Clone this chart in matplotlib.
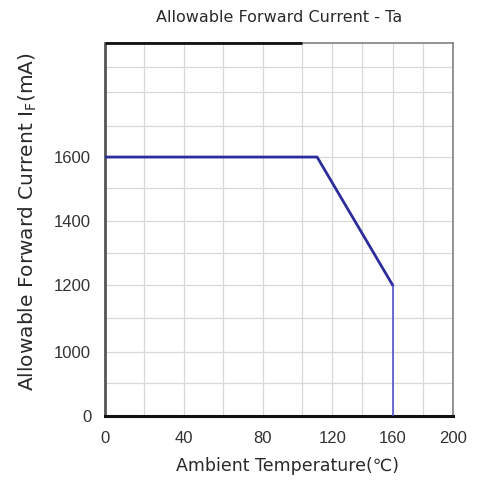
import numpy as np
from matplotlib import pyplot as plt

# Derating curve: forward current vs ambient temperature
temp_curve = [0, 110, 160]
current_curve = [1600, 1600, 1200]
temp_drop = [160, 160]
current_drop = [1200, 0]

x_ticks = [0, 40, 80, 120, 160, 200]
y_ticks = [0, 1000, 1200, 1400, 1600]
x_grid = [20, 60, 100, 140, 180]
y_grid = [500, 1100, 1300, 1500, 1700, 1800, 1900]

# The original chart axes are not linear; piecewise maps (data -> screen units)
X_DATA = [0, 100, 200]
X_SCREEN = [0, 197, 348]
Y_DATA = [0, 500, 1000, 1100, 1200, 1300, 1400, 1500, 1600, 1700, 1800, 1900, 2000]
Y_SCREEN = [0, 33, 64, 98, 131, 163, 195, 228, 259, 290, 324, 349, 373]


def fwd_x(v):
    return np.interp(v, X_DATA, X_SCREEN)


def inv_x(v):
    return np.interp(v, X_SCREEN, X_DATA)


def fwd_y(v):
    return np.interp(v, Y_DATA, Y_SCREEN)


def inv_y(v):
    return np.interp(v, Y_SCREEN, Y_DATA)


plt.rcParams['font.family'] = ['Liberation Sans', 'DejaVu Sans']
plt.rcParams['mathtext.default'] = 'regular'
wide = ['DejaVu Sans']

fig = plt.figure(figsize=(4.78, 4.80), dpi=100)
ax = fig.add_axes([0.2197, 0.1333, 0.728, 0.777])

ax.set_xscale('function', functions=(fwd_x, inv_x))
ax.set_yscale('function', functions=(fwd_y, inv_y))
ax.set_xlim(0, 200)
ax.set_ylim(0, 2000)

ax.set_xticks(x_ticks)
ax.set_xticks(x_grid, minor=True)
ax.set_yticks(y_ticks)
ax.set_yticks(y_grid, minor=True)
ax.set_xticklabels([str(t) for t in x_ticks])
ax.set_yticklabels([str(t) for t in y_ticks])
ax.grid(True, which='both', color='#d8d8d8', linewidth=0.9)
ax.set_axisbelow(True)
ax.tick_params(which='both', length=0, labelsize=12, labelcolor='#333333')
ax.tick_params(axis='x', pad=11)
ax.tick_params(axis='y', pad=10)

ax.plot(temp_curve, current_curve, color='#2c2c9c', linewidth=2.0,
        solid_joinstyle='round', zorder=3)
ax.plot(temp_drop, current_drop, color='#4848c8', linewidth=1.1, zorder=3)

for side in ['top', 'right']:
    ax.spines[side].set_color('#808080')
    ax.spines[side].set_linewidth(1.2)
ax.spines['left'].set_color('#555555')
ax.spines['left'].set_linewidth(2.0)
ax.spines['bottom'].set_color('#111111')
ax.spines['bottom'].set_linewidth(2.2)
# darker segment along the top edge, as in the source image
ax.hlines(2000, 0, 100, color='#111111', linewidth=2.0, clip_on=False, zorder=4)

ax.set_xlabel('Ambient Temperature(\u2103)', fontsize=12.5, color='#2a2a2a',
              family=wide)
ax.xaxis.set_label_coords(0.524, -0.11)
ax.set_ylabel('Allowable Forward Current I$_F$(mA)', fontsize=14.5,
              color='#2a2a2a', family=wide)
ax.yaxis.set_label_coords(-0.19, 0.52)
ax.set_title('Allowable Forward Current - Ta', fontsize=11.5, color='#2a2a2a',
             family=wide, pad=15)

fig.savefig('out.png', dpi=100)
